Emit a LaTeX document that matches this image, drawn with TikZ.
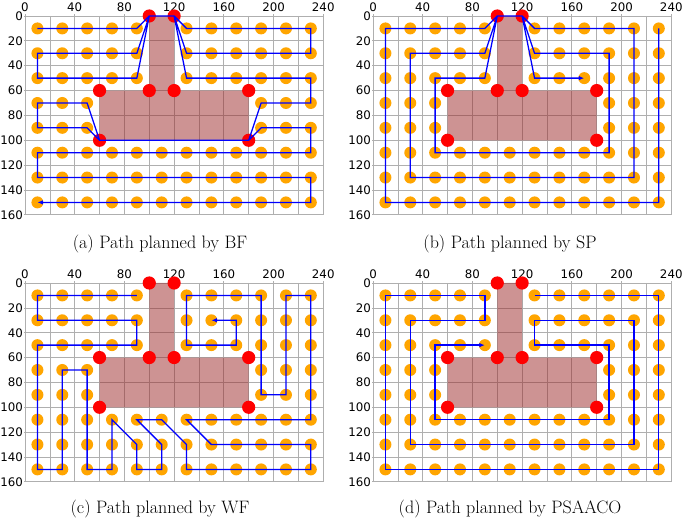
\documentclass[tikz,border=0pt]{standalone}
\usepackage{fontspec}
\newfontfamily\ticksfont{DejaVu Sans}
\usepackage{tikz}
\usetikzlibrary{arrows.meta}
\usepackage{xcolor}
\definecolor{gridgray}{RGB}{175,175,175}
\definecolor{obstred}{RGB}{155,40,40}
\definecolor{cellorange}{RGB}{255,165,0}
\definecolor{routeblue}{RGB}{0,0,255}

% grid, obstacle and cells of one field (data units, y pointing down)
\newcommand{\drawfield}{%
  \foreach \gx in {0,20,...,240} \draw[gridline] (\gx,0) -- (\gx,160);
  \foreach \gy in {0,20,...,160} \draw[gridline] (0,\gy) -- (240,\gy);
  \foreach \gx in {0,40,...,240}
    \draw[gridline] (\gx,0) -- (\gx,-1.4) node[ticklabel, anchor=south] (xt\gx) {\gx};
  \foreach \gy in {0,20,...,160}
    \draw[gridline] (0,\gy) -- (-1.2,\gy) node[ticklabel, anchor=east, inner sep=0.3pt] (yt\gy) {\gy};
  \fill[obstacle] (100,0) -- (120,0) -- (120,60) -- (180,60) -- (180,100)
    -- (60,100) -- (60,60) -- (100,60) -- cycle;
  \foreach \cx in {10,30,...,230}
    \foreach \cy in {10,30,...,150} {
      \pgfmathtruncatemacro{\inobst}{(\cx==110 && \cy<60) || (\cx>60 && \cx<180 && \cy>60 && \cy<100)}
      \ifnum\inobst=0 \fill[cell] (\cx,\cy) circle[radius=6pt]; \fi
    }
  \foreach \vx/\vy in {100/0,120/0,60/60,100/60,120/60,180/60,60/100,180/100}
    \fill[vertex] (\vx,\vy) circle[radius=6.6pt];
}

\begin{document}
\begin{tikzpicture}[x=1pt, y=-1pt,
    gridline/.style={gridgray, line width=0.7pt},
    ticklabel/.style={font=\ticksfont\fontsize{11.8}{12}\selectfont, text=black, inner sep=2.4pt},
    obstacle/.style={fill=obstred, fill opacity=0.5},
    cell/.style={fill=cellorange},
    vertex/.style={fill=red},
    route/.style={routeblue, line width=1.3pt, -{Latex[length=5.5pt, width=4.5pt]}},
    caption/.style={font=\fontsize{18}{21}\selectfont}]
  \useasboundingbox (0,0) rectangle (685,518);

  % (a) BF
  \begin{scope}[shift={(25,16)}, x=1.2427pt, y=-1.2427pt]
    \drawfield
    \draw[route] (10,10) -- (90,10) -- (100,0) -- (120,0) -- (130,10) -- (230,10)
      -- (230,30) -- (130,30) -- (120,0) -- (100,0) -- (90,30) -- (10,30)
      -- (10,50) -- (90,50) -- (100,0) -- (120,0) -- (130,50) -- (230,50)
      -- (230,70) -- (190,70) -- (180,100) -- (60,100) -- (50,70) -- (10,70)
      -- (10,90) -- (50,90) -- (60,100) -- (180,100) -- (190,90) -- (230,90)
      -- (230,110) -- (10,110) -- (10,130) -- (230,130) -- (230,150) -- (10,150);
  \end{scope}

  % (b) SP
  \begin{scope}[shift={(373,16)}, x=1.2427pt, y=-1.2427pt]
    \drawfield
    \draw[route] (230,10) -- (230,150) -- (10,150) -- (10,10) -- (90,10) -- (100,0)
      -- (120,0) -- (130,10) -- (210,10) -- (210,130) -- (30,130) -- (30,30)
      -- (90,30) -- (100,0) -- (120,0) -- (130,30) -- (190,30) -- (190,110)
      -- (50,110) -- (50,50) -- (90,50) -- (100,0) -- (120,0) -- (130,50) -- (170,50);
  \end{scope}

  % (c) WF
  \begin{scope}[shift={(25,283)}, x=1.2427pt, y=-1.2427pt]
    \drawfield
    \draw[route] (90,10) -- (10,10) -- (10,30) -- (90,30) -- (90,50) -- (10,50)
      -- (10,150) -- (30,150) -- (30,70) -- (50,70) -- (50,150) -- (70,150)
      -- (70,110) -- (90,130) -- (90,150) -- (110,150) -- (110,130) -- (90,110)
      -- (110,110) -- (130,130) -- (130,150) -- (230,150) -- (230,130) -- (150,130)
      -- (130,110) -- (230,110) -- (230,10) -- (210,10) -- (210,90) -- (190,90)
      -- (190,10) -- (130,10) -- (130,50) -- (170,50) -- (170,30) -- (150,30);
  \end{scope}

  % (d) PSAACO
  \begin{scope}[shift={(373,283)}, x=1.2427pt, y=-1.2427pt]
    \drawfield
    \draw[route] (130,10) -- (230,10) -- (230,150) -- (10,150) -- (10,10) -- (90,10)
      -- (90,30) -- (30,30) -- (30,130) -- (210,130) -- (210,30) -- (130,30)
      -- (130,50) -- (190,50) -- (190,110) -- (50,110) -- (50,50) -- (90,50);
  \end{scope}

  \node[caption] (capa) at (160,244) {(a) Path planned by BF};
  \node[caption] (capb) at (510,244) {(b) Path planned by SP};
  \node[caption] (capc) at (160,509) {(c) Path planned by WF};
  \node[caption] (capd) at (510,509) {(d) Path planned by PSAACO};
\end{tikzpicture}
\end{document}
